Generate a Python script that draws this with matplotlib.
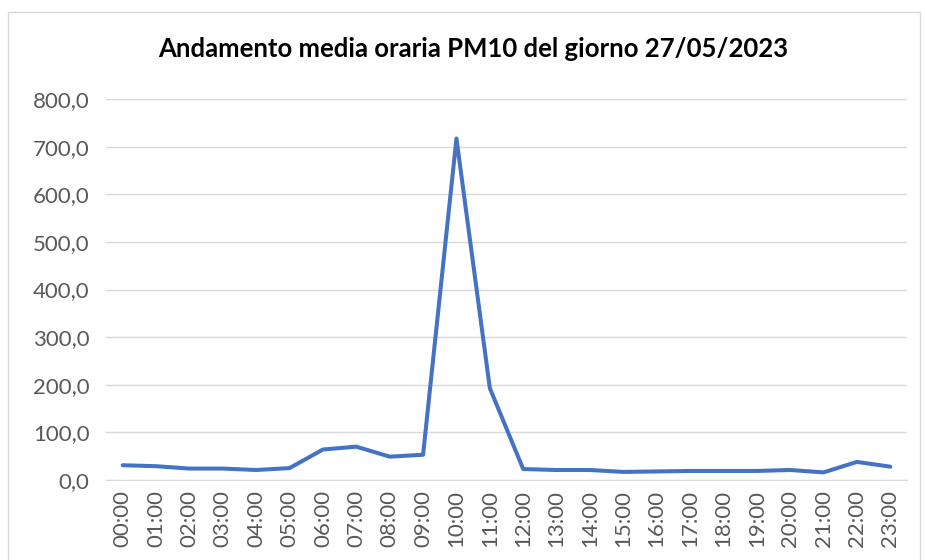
import matplotlib
matplotlib.use('Agg')
import matplotlib.pyplot as plt
import numpy as np

# Ore del giorno e media oraria PM10
ore = ['%02d:00' % h for h in range(24)]
pm10 = [31, 29, 24, 24, 21, 25, 64, 70, 49, 53, 717, 193,
        23, 21, 21, 17, 18, 19, 19, 19, 21, 16, 38, 28]
yticks = [0, 100, 200, 300, 400, 500, 600, 700, 800]

plt.rcParams['font.family'] = ['Lato', 'DejaVu Sans']

fig = plt.figure(figsize=(9.25, 5.6), dpi=100)
ax = fig.add_axes([106 / 925, 1 - 480 / 560, (907 - 106) / 925, (480 - 99) / 560])

x = np.arange(len(ore))
ax.plot(x, pm10, color='#4472C4', linewidth=2.9, solid_joinstyle='round', solid_capstyle='round')

ax.set_xlim(-0.5, len(ore) - 0.5)
ax.set_ylim(0, 800)
ax.set_yticks(yticks)
ax.set_yticklabels([f'{v:.1f}'.replace('.', ',') for v in yticks])
ax.set_xticks(x)
ax.set_xticklabels(ore, rotation=90)
ax.tick_params(axis='both', length=0, labelsize=16, colors='#595959')
ax.tick_params(axis='y', pad=12)
ax.tick_params(axis='x', pad=7)

ax.grid(axis='y', color='#D9D9D9', linewidth=1)
ax.set_axisbelow(True)
for s in ['top', 'right', 'left']:
    ax.spines[s].set_visible(False)
ax.spines['bottom'].set_color('#D9D9D9')

fig.text(473 / 925, 1 - 49 / 560, 'Andamento media oraria PM10 del giorno 27/05/2023',
         ha='center', va='center', fontsize=18.5, fontweight='bold', color='black')

# bordo del grafico
fig.add_artist(plt.Rectangle((8 / 925, -0.01), 912 / 925, 1 - 12 / 560 + 0.01,
                             transform=fig.transFigure, fill=False,
                             edgecolor='#D9D9D9', linewidth=1))

fig.savefig('out.png', dpi=100)
